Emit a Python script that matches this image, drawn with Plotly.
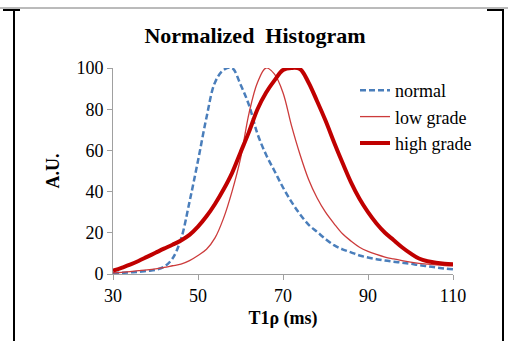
import plotly.graph_objects as go

t1rho = list(range(30, 111, 2))
normal = [0.5, 0.6, 0.8, 1, 1.5, 2, 3.5, 7.5, 17, 35, 55, 76, 93, 99, 100, 92, 82, 68, 58, 50, 42,
          35, 29, 24, 20.5, 17, 14, 12, 10.5, 9, 8, 7.2, 6.5, 6, 5.5, 5, 4.3, 3.8, 3.2, 2.7, 2.3]
low_grade = [0.5, 0.8, 1.2, 1.6, 2, 2.5, 3.2, 4, 4.8, 6.5, 9, 12, 17.5, 27, 40, 56, 78, 93, 100, 97, 88,
             72, 58, 46, 37, 30, 24.5, 19.5, 16, 13, 11, 9.5, 8.2, 7.3, 6.5, 5.8, 5.2, 4.8, 4.4, 4.1, 3.9]
high_grade = [1.6, 3, 4.5, 6.3, 8.3, 10.3, 12.3, 14.2, 16.3, 19, 23, 28, 34, 41, 49, 59, 69, 80, 88, 94, 99,
              100, 99.5, 93, 84, 74.5, 64, 54, 44.5, 36.5, 30, 24.5, 20, 16.5, 13, 10, 7.5, 6.2, 5.5, 5, 4.7]
x_ticks = [30, 50, 70, 90, 110]
y_ticks = [0, 20, 40, 60, 80, 100]

W, H = 508, 341
L, R, T, B = 113, 55, 68, 67
pw, ph = W - L - R, H - T - B

def px(x):
    return (x - L) / pw

def py(y):
    return (H - B - y) / ph

font = "Liberation Serif"

fig = go.Figure()
fig.add_trace(go.Scatter(x=t1rho, y=normal, name="normal", mode="lines", line_shape="spline",
                         line=dict(color="#4a7ebb", width=2.5, dash="6px,3px")))
fig.add_trace(go.Scatter(x=t1rho, y=low_grade, name="low grade", mode="lines", line_shape="spline",
                         line=dict(color="#cc3b3b", width=1.3)))
fig.add_trace(go.Scatter(x=t1rho, y=high_grade, name="high grade", mode="lines", line_shape="spline",
                         line=dict(color="#c00000", width=4)))

shapes = [
    dict(type="line", xref="paper", yref="paper", x0=px(0), x1=px(W), y0=py(8), y1=py(8),
         line=dict(color="#777777", width=1)),
    dict(type="line", xref="paper", yref="paper", x0=px(3), x1=px(20), y0=py(10), y1=py(10),
         line=dict(color="black", width=2)),
    dict(type="line", xref="paper", yref="paper", x0=px(487), x1=px(504), y0=py(10), y1=py(10),
         line=dict(color="black", width=2)),
    dict(type="line", xref="paper", yref="paper", x0=px(14), x1=px(14), y0=py(10), y1=py(H),
         line=dict(color="black", width=2)),
    dict(type="line", xref="paper", yref="paper", x0=px(503), x1=px(503), y0=py(10), y1=py(H),
         line=dict(color="black", width=2)),
]

fig.update_layout(
    width=W, height=H,
    margin=dict(l=L, r=R, t=T, b=B),
    paper_bgcolor="white", plot_bgcolor="white",
    font=dict(family=font, size=18, color="black"),
    title=dict(text="<b>Normalized  Histogram</b>", xref="container", x=255 / W, xanchor="center",
               yref="container", y=1 - 35 / H, yanchor="middle", font=dict(size=22, family=font)),
    xaxis=dict(range=[30, 110], tickvals=x_ticks, ticks="outside", ticklen=5, tickcolor="#a0a0a0",
               showline=True, linecolor="#a0a0a0", linewidth=1, showgrid=False, zeroline=False,
               tickfont=dict(size=18),
               title=dict(text="<b>T1ρ (ms)</b>", font=dict(size=18), standoff=6)),
    yaxis=dict(range=[0, 100], tickvals=y_ticks, ticks="outside", ticklen=5, tickcolor="#a0a0a0",
               showline=True, linecolor="#a0a0a0", linewidth=1, showgrid=False, zeroline=False,
               tickfont=dict(size=18),
               title=dict(text="<b>A.U.</b>", font=dict(size=18), standoff=12)),
    legend=dict(x=px(355), y=py(72), xanchor="left", yanchor="top", bgcolor="rgba(0,0,0,0)",
                font=dict(size=18), tracegroupgap=0, itemwidth=30),
    shapes=shapes,
)

fig.write_html("out.html", config={"displayModeBar": False},
               post_script="document.body.style.margin='0';document.documentElement.style.overflow='hidden';document.body.style.overflow='hidden';")
